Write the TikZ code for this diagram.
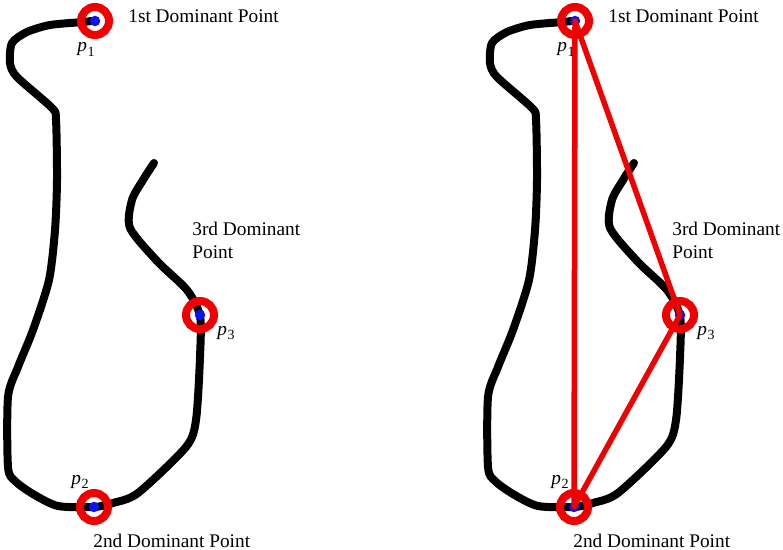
\documentclass[tikz,border=0pt]{standalone}
\usepackage{fontspec}
\setmainfont{Liberation Serif}
\usetikzlibrary{positioning}
\definecolor{ringred}{HTML}{F00000}
\definecolor{dotblue}{HTML}{0A14F0}

% italic p with a small subscript index
\newcommand{\ptlabel}[1]{\textit{p}\kern0.3pt\raisebox{-0.5ex}{\fontsize{8}{8}\selectfont #1}}

\begin{document}
\begin{tikzpicture}[
  x=0.02cm, y=-0.02cm,
  every node/.style={font=\fontsize{11}{13}\selectfont, inner sep=0pt},
  contour/.style={line width=0.16cm, line cap=round, line join=round},
  ring/.style={circle, draw=ringred, line width=0.16cm, minimum size=0.56cm},
  dot/.style={circle, fill=dotblue, minimum size=0.21cm},
  chord/.style={draw=ringred, line width=0.11cm, line join=round}
]
  \useasboundingbox (0,0) rectangle (783,550);

  % same outline twice: left plain, right with the triangle
  \foreach \side/\dx in {l/0, r/480} {
    \begin{scope}[xshift=\dx*0.02cm]
      \draw[contour] plot[smooth, tension=0.45] coordinates {
        (154,163) (143,180) (132,200) (130,228) (158,262) (187,290)
        (200,316) (200,357) (196,420) (186,447) (138,493) (113,503)
        (94,507) (58,506) (33,494) (15,481) (8,467) (8,397) (18,367)
        (33,330) (49,280) (55,230) (57,180) (56,120) (52,108) (17,77)
        (10,63) (12,43) (27,32) (50,25) (83,22) (92,21)};

      \coordinate (\side p1) at (95,21);
      \coordinate (\side p2) at (94,507);
      \coordinate (\side p3) at (200,315);

      \node[dot] (\side dot1) at (\side p1) {};
      \node[dot] (\side dot2) at (\side p2) {};
      \node[dot] (\side dot3) at (\side p3) {};
    \end{scope}
  }

  % triangle between the three dominant points
  \draw[chord] (rp1) -- (rp2) -- (rp3) -- cycle;

  \foreach \side/\dx in {l/0, r/480} {
    \begin{scope}[xshift=\dx*0.02cm]
      \node[ring] (\side ring1) at (\side p1) {};
      \node[ring] (\side ring2) at (\side p2) {};
      \node[ring] (\side ring3) at (\side p3) {};

      \node[anchor=base west] (\side name1) at (128,23) {1st Dominant Point};
      \node[anchor=base west, align=left] (\side name3) at (192,258) {3rd Dominant\\Point};
      \node[anchor=base west] (\side name2) at (93,547) {2nd Dominant Point};

      \node[anchor=base west] (\side sub1) at (77,52) {\ptlabel{1}};
      \node[anchor=base west] (\side sub2) at (71,484) {\ptlabel{2}};
      \node[anchor=base west] (\side sub3) at (217,335) {\ptlabel{3}};
    \end{scope}
  }
\end{tikzpicture}
\end{document}
